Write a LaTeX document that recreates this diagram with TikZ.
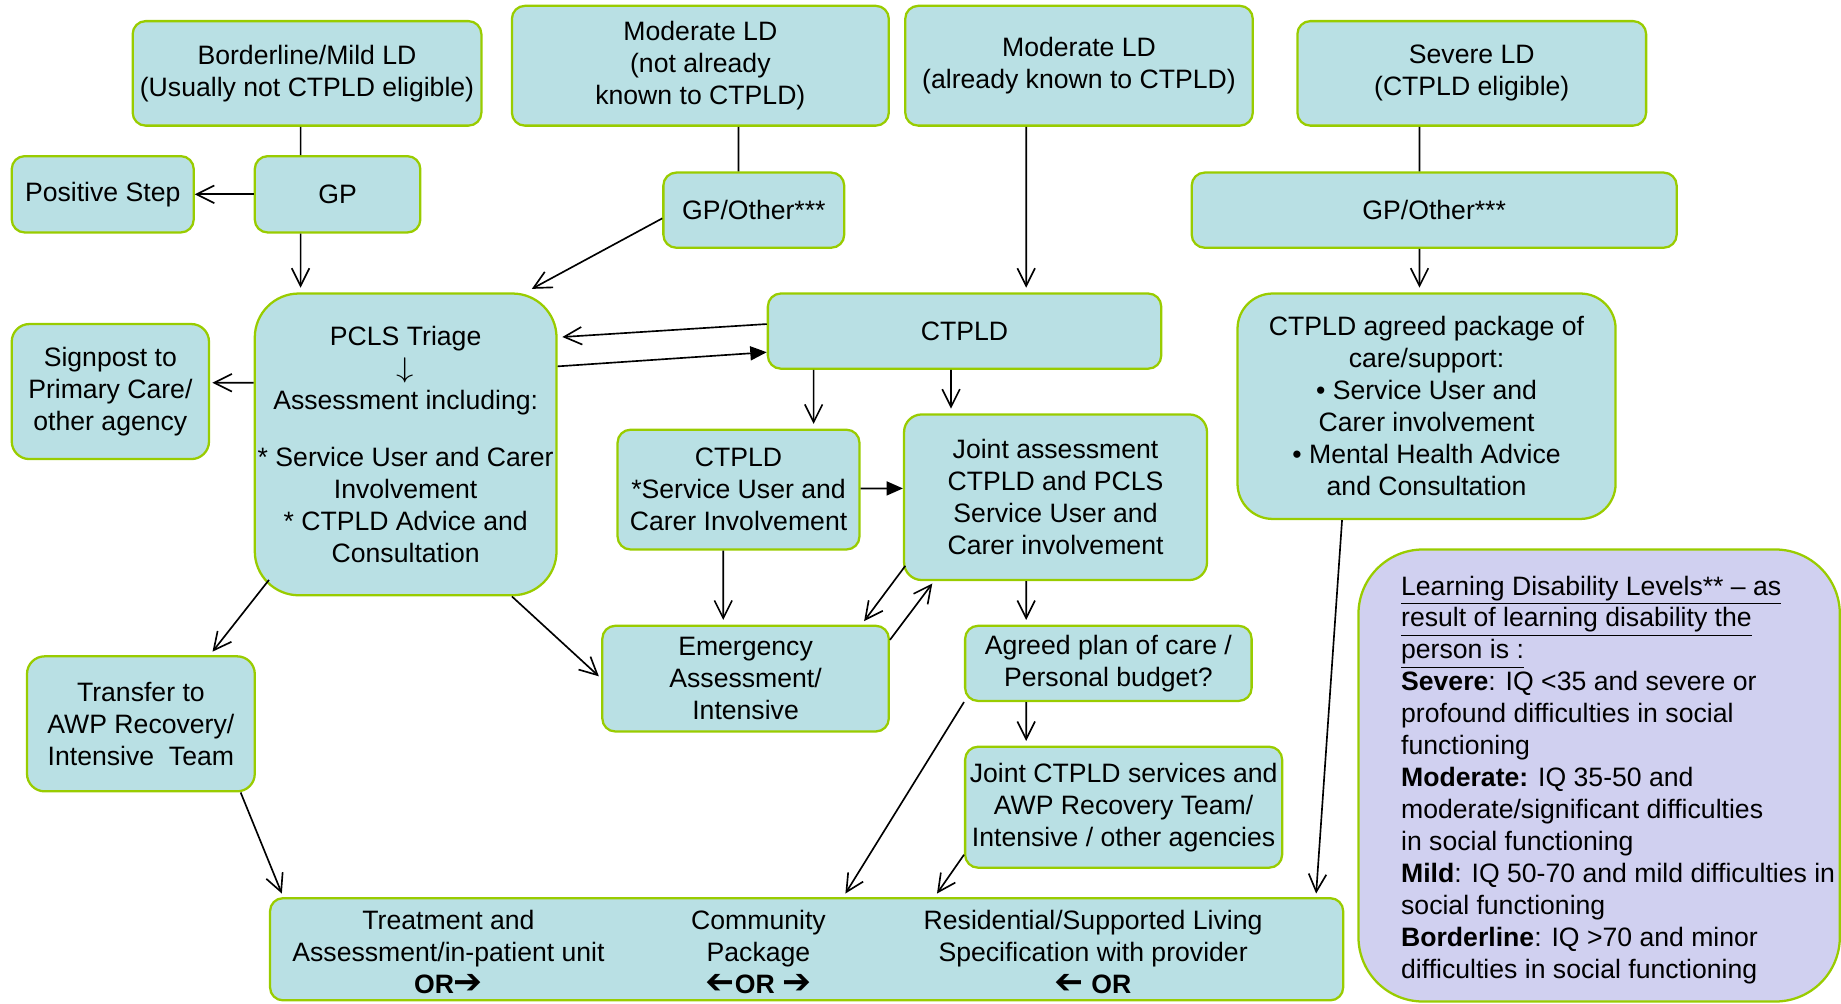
\documentclass[tikz,border=0pt]{standalone}
\usepackage{fontspec}
\setmainfont{Liberation Sans}
\newfontfamily\dejavu{DejaVu Sans}
\usepackage{graphicx}
\usetikzlibrary{arrows.meta}
\definecolor{boxfill}{RGB}{185,224,228}
\definecolor{boxline}{RGB}{153,204,0}
\definecolor{keyfill}{RGB}{208,208,240}
\newcommand{\rarr}{{\dejavu\scalebox{1.3}{➔}}}
\newcommand{\larr}{{\dejavu\scalebox{-1.3}[1.3]{➔}}}
\newcommand{\darr}{\scalebox{1.4}[1.15]{$\downarrow$}}

\begin{document}
\begin{tikzpicture}[
    box/.style={draw=boxline, fill=boxfill, line width=1.1pt, rounded corners=0.22cm, align=center, inner sep=0pt, font=\fontsize{12.9}{15.5}\selectfont},
    txt/.style={align=center, inner sep=0pt, font=\fontsize{12.9}{15.5}\selectfont},
    arr/.style={-{Straight Barb[length=0.3cm,width=0.3cm]}, line width=0.8pt},
    farr/.style={-{Triangle[length=0.28cm,width=0.24cm]}, line width=0.8pt}]
    \useasboundingbox (0,0) rectangle (31.36,-17.10);
    \node[box, minimum width=5.94cm, minimum height=1.78cm] (bml) at (5.23,-1.25) {Borderline/Mild LD\\(Usually not CTPLD eligible)};
    \node[box, minimum width=6.42cm, minimum height=2.04cm] (modnew) at (11.93,-1.12) {Moderate LD\\(not already\\known to CTPLD)};
    \node[box, minimum width=5.92cm, minimum height=2.04cm] (modknown) at (18.38,-1.12) {Moderate LD\\(already known to CTPLD)};
    \node[box, minimum width=5.94cm, minimum height=1.78cm] (severe) at (25.07,-1.25) {Severe LD\\(CTPLD eligible)};
    \node[box, minimum width=3.10cm, minimum height=1.30cm] (posstep) at (1.75,-3.31) {Positive Step};
    \node[box, minimum width=2.82cm, minimum height=1.30cm] (gp) at (5.75,-3.31) {GP};
    \node[box, minimum width=3.08cm, minimum height=1.28cm] (gpoA) at (12.84,-3.58) {GP/Other***};
    \node[box, minimum width=8.26cm, minimum height=1.28cm] (gpoB) at (24.43,-3.58) {GP/Other***};
    \node[box, rounded corners=0.75cm, minimum width=5.14cm, minimum height=5.14cm] (pcls) at (6.91,-7.57) {PCLS Triage\\\darr\\Assessment including:\\[12pt]{}* Service User and Carer\\Involvement\\{}* CTPLD Advice and\\Consultation};
    \node[box, rounded corners=0.3cm, minimum width=3.36cm, minimum height=2.30cm] (signpost) at (1.88,-6.67) {Signpost to\\Primary Care/\\other agency};
    \node[box, minimum width=6.70cm, minimum height=1.28cm] (ctpld) at (16.43,-5.64) {CTPLD};
    \node[box, rounded corners=0.6cm, minimum width=6.44cm, minimum height=3.84cm] (pkg) at (24.30,-6.92) {CTPLD agreed package of\\care/support:\\• Service User and\\Carer involvement\\• Mental Health Advice\\and Consultation};
    \node[box, minimum width=4.12cm, minimum height=2.04cm] (ctpldsu) at (12.58,-8.34) {CTPLD\\{}*Service User and\\Carer Involvement};
    \node[box, rounded corners=0.3cm, minimum width=5.16cm, minimum height=2.82cm] (joint) at (17.98,-8.47) {Joint assessment\\CTPLD and PCLS\\Service User and\\Carer involvement};
    \node[box, minimum width=4.88cm, minimum height=1.80cm] (emerg) at (12.70,-11.56) {Emergency\\Assessment/\\Intensive};
    \node[box, minimum width=4.88cm, minimum height=1.28cm] (plan) at (18.88,-11.30) {Agreed plan of care /\\Personal budget?};
    \node[box, rounded corners=0.3cm, minimum width=3.88cm, minimum height=2.30cm] (transfer) at (2.40,-12.33) {Transfer to\\AWP Recovery/\\Intensive\ \ Team};
    \node[box, minimum width=5.40cm, minimum height=2.06cm] (jointsvc) at (19.14,-13.75) {Joint CTPLD services and\\AWP Recovery Team/\\Intensive / other agencies};
    \node[box, minimum width=18.28cm, minimum height=1.74cm] (outcome) at (13.74,-16.17) {};
    \node[txt] (inpatient) at (7.64,-16.22) {Treatment and\\Assessment/in-patient unit\\\textbf{OR\rarr}};
    \node[txt] (community) at (12.92,-16.22) {Community\\Package\\\textbf{\larr OR \rarr}};
    \node[txt] (residential) at (18.62,-16.22) {Residential/Supported Living\\Specification with provider\\\textbf{\larr\ OR}};
    \node[box, fill=keyfill, rounded corners=1.1cm, minimum width=8.20cm, minimum height=7.70cm] (key) at (27.24,-13.21) {};
    \node[txt, align=left, anchor=north west] (keytext) at (23.86,-9.80) {\underline{Learning Disability Levels** – as}\\
      \underline{result of learning disability the}\\
      \underline{person is :}\\
      \textbf{Severe}: IQ <35 and severe or\\
      profound difficulties in social\\
      functioning\\
      \textbf{Moderate:} IQ 35-50 and\\
      moderate/significant difficulties\\
      in social functioning\\
      \textbf{Mild}: IQ 50-70 and mild difficulties in\\
      social functioning\\
      \textbf{Borderline}: IQ >70 and minor\\
      difficulties in social functioning};
    \draw[line width=0.8pt] ([xshift=-0.11cm]bml.south) -- ([xshift=-0.63cm]gp.north);
    \draw[line width=0.8pt] ([xshift=0.65cm]modnew.south) -- ([xshift=-0.26cm]gpoA.north);
    \draw[line width=0.8pt] ([xshift=-0.89cm]severe.south) -- ([xshift=-0.25cm]gpoB.north);
    \draw[arr] (gp.west) -- (posstep.east);
    \draw[arr] ([xshift=-0.63cm]gp.south) -- ([xshift=-1.79cm,yshift=0.08cm]pcls.north);
    \draw[arr] ([yshift=-0.14cm]gpoA.west) -- ([xshift=-0.44cm,yshift=0.06cm]pcls.north east);
    \draw[arr] ([xshift=-0.9cm]modknown.south) -- ([xshift=1.05cm,yshift=0.08cm]ctpld.north);
    \draw[arr] ([xshift=-0.25cm]gpoB.south) -- ([xshift=-0.12cm,yshift=0.08cm]pkg.north);
    \draw[arr] ([yshift=0.12cm]ctpld.west) -- ([xshift=0.08cm,yshift=-0.76cm]pcls.north east);
    \draw[farr] ([yshift=-1.26cm]pcls.north east) -- ([yshift=-0.36cm]ctpld.west);
    \draw[arr] ([yshift=1.05cm]pcls.west) -- ([xshift=0.04cm,yshift=0.15cm]signpost.east);
    \draw[arr] ([xshift=-2.57cm]ctpld.south) -- ([xshift=1.28cm,yshift=0.08cm]ctpldsu.north);
    \draw[arr] ([xshift=-0.23cm]ctpld.south) -- ([xshift=-1.78cm,yshift=0.08cm]joint.north);
    \draw[farr] ([yshift=0.02cm]ctpldsu.east) -- ([yshift=0.15cm]joint.west);
    \draw[arr] ([xshift=-0.26cm]ctpldsu.south) -- ([xshift=-0.38cm,yshift=0.08cm]emerg.north);
    \draw[arr] ([xshift=0.04cm,yshift=0.26cm]joint.south west) -- ([xshift=-0.44cm,yshift=0.06cm]emerg.north east);
    \draw[arr] ([yshift=-0.26cm]emerg.north east) -- ([xshift=0.5cm,yshift=-0.04cm]joint.south west);
    \draw[arr] ([xshift=-0.5cm]joint.south) -- ([xshift=-1.4cm,yshift=0.08cm]plan.north);
    \draw[arr] ([xshift=-1.4cm]plan.south) -- ([xshift=-1.66cm,yshift=0.08cm]jointsvc.north);
    \draw[arr] ([xshift=0.26cm,yshift=0.28cm]pcls.south west) -- ([xshift=1.22cm,yshift=0.06cm]transfer.north);
    \draw[arr] ([xshift=-0.78cm]pcls.south east) -- ([xshift=-0.04cm,yshift=0.04cm]emerg.west);
    \draw[arr] ([xshift=-0.26cm]transfer.south east) -- ([xshift=0.22cm,yshift=0.06cm]outcome.north west);
    \draw[arr] (plan.south west) -- ([xshift=9.82cm,yshift=0.06cm]outcome.north west);
    \draw[arr] ([yshift=0.24cm]jointsvc.south west) -- ([xshift=11.38cm,yshift=0.06cm]outcome.north west);
    \draw[arr] ([xshift=1.8cm]pkg.south west) -- ([xshift=-0.48cm,yshift=0.06cm]outcome.north east);
\end{tikzpicture}
\end{document}
